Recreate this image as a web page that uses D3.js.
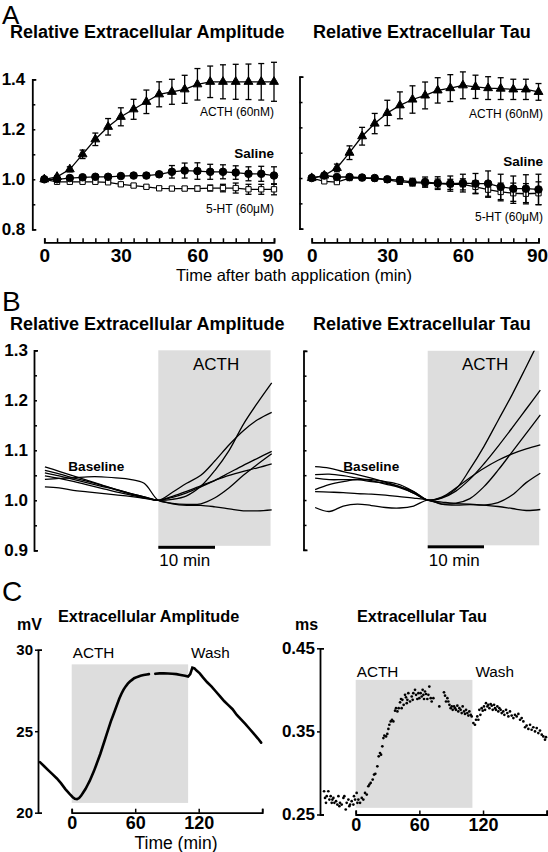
<!DOCTYPE html>
<html><head><meta charset="utf-8">
<script src="https://cdn.jsdelivr.net/npm/d3@7"></script>
<style>body{margin:0;background:#fff} svg{display:block}</style>
</head><body><svg id="c" width="548" height="852"></svg>
<script>
// ---------------- DATA ----------------
// Panel A: relative values every 5 min after bath application
const timeA = [0,5,10,15,20,25,30,35,40,45,50,55,60,65,70,75,80,85,90];
const ampACTH = [1.00,1.01,1.04,1.10,1.16,1.21,1.25,1.28,1.31,1.34,1.35,1.36,1.38,1.39,1.39,1.39,1.39,1.39,1.39];
const ampACTHErr = [0,0.005,0.01,0.017,0.025,0.033,0.036,0.04,0.047,0.05,0.05,0.056,0.063,0.063,0.068,0.07,0.071,0.073,0.078];
const ampSaline = [1.00,1.00,1.005,1.008,1.01,1.01,1.013,1.015,1.015,1.02,1.03,1.035,1.033,1.03,1.03,1.027,1.022,1.022,1.015];
const ampSalineErr = [0,0.003,0.005,0.005,0.006,0.006,0.007,0.008,0.009,0.01,0.025,0.03,0.033,0.03,0.028,0.027,0.028,0.03,0.035];
const amp5HT = [1.00,0.99,0.99,0.99,0.99,0.988,0.98,0.975,0.97,0.964,0.963,0.963,0.963,0.965,0.965,0.965,0.96,0.96,0.96];
const amp5HTErr = [0,0.003,0.004,0.005,0.005,0.005,0.006,0.006,0.006,0.007,0.007,0.008,0.01,0.012,0.015,0.02,0.02,0.02,0.022];
const tauACTH = [1.00,1.01,1.04,1.10,1.165,1.215,1.257,1.287,1.31,1.326,1.346,1.355,1.366,1.36,1.355,1.353,1.35,1.35,1.34];
const tauACTHErr = [0,0.005,0.015,0.027,0.035,0.04,0.05,0.053,0.054,0.053,0.05,0.053,0.053,0.046,0.045,0.043,0.04,0.04,0.033];
const tauSaline = [1.00,1.01,1.004,1.004,1.002,1.0,0.995,0.992,0.984,0.984,0.98,0.978,0.98,0.978,0.978,0.965,0.958,0.958,0.955];
const tauSalineErr = [0,0.004,0.004,0.005,0.006,0.008,0.01,0.012,0.015,0.02,0.025,0.03,0.035,0.04,0.05,0.05,0.05,0.055,0.06];
const tau5HT = [1.00,0.987,0.984,1.0,1.0,0.998,0.993,0.985,0.982,0.98,0.978,0.975,0.975,0.965,0.954,0.945,0.94,0.938,0.94];
const tau5HTErr = [0,0.004,0.005,0.005,0.005,0.006,0.008,0.01,0.012,0.015,0.018,0.02,0.022,0.025,0.03,0.035,0.04,0.04,0.045];
const tickA_x = [0,5,10,15,20,25,30,35,40,45,50,55,60,65,70,75,80,85,90];
const labelA_x = [0,30,60,90];
const tickA_y = [0.8,0.9,1.0,1.1,1.2,1.3,1.4];
const labelA_y = [0.8,1.0,1.2,1.4];

// Panel B: individual traces (min relative to ACTH onset)
const timeB = [-20,-17.5,-15,-12.5,-10,-7.5,-5,-2.5,0,2.5,5,7.5,10,12.5,15,17.5,20];
const ampTrace1 = [1.067,1.058,1.049,1.040,1.031,1.022,1.014,1.007,1.0,1.002,1.009,1.028,1.060,1.100,1.152,1.195,1.235];
const ampTrace2 = [1.060,1.053,1.045,1.038,1.030,1.022,1.014,1.007,1.0,1.016,1.034,1.050,1.079,1.111,1.139,1.161,1.176];
const ampTrace3 = [1.055,1.049,1.042,1.035,1.028,1.021,1.013,1.006,1.0,1.006,1.015,1.027,1.040,1.055,1.070,1.084,1.098];
const ampTrace4 = [1.049,1.044,1.038,1.031,1.024,1.017,1.011,1.005,1.0,1.008,1.018,1.029,1.040,1.050,1.058,1.065,1.073];
const ampTrace5 = [1.042,1.044,1.045,1.047,1.047,1.045,1.042,1.034,1.0,0.994,0.992,0.993,1.005,1.025,1.050,1.072,1.093];
const ampTrace6 = [1.027,1.025,1.020,1.017,1.014,1.011,1.008,1.004,1.0,0.993,0.990,0.990,0.987,0.983,0.979,0.979,0.981];
const tauTrace1 = [1.067,1.064,1.057,1.051,1.044,1.036,1.027,1.014,1.0,1.005,1.022,1.062,1.108,1.160,1.212,1.268,1.325];
const tauTrace2 = [1.051,1.052,1.049,1.044,1.039,1.032,1.025,1.014,1.0,1.004,1.018,1.042,1.073,1.108,1.145,1.183,1.221];
const tauTrace3 = [1.044,1.041,1.041,1.041,1.041,1.037,1.031,1.017,1.0,0.996,0.994,1.003,1.027,1.060,1.097,1.134,1.171];
const tauTrace4 = [1.021,1.031,1.037,1.041,1.037,1.034,1.027,1.017,1.0,1.006,1.024,1.045,1.064,1.080,1.093,1.103,1.111];
const tauTrace5 = [1.017,1.016,1.015,1.013,1.012,1.010,1.007,1.004,1.0,0.992,0.990,0.991,0.990,0.995,1.010,1.035,1.054];
const tauTrace6 = [0.985,0.977,0.988,0.992,0.989,0.985,0.984,0.988,1.0,0.992,0.993,0.992,0.990,0.987,0.983,0.979,0.981];
const tickB_y = [0.9,0.95,1.0,1.05,1.1,1.15,1.2,1.25,1.3];
const labelB_y = [0.9,1.0,1.1,1.2,1.3];
const acthWindowB = [0,19.8];
const scaleBarB = [0,10];

// Panel C: single experiment (min)
const ampTime = [-30,-26,-22,-18,-14,-10,-6,-2,1,3,5,7,9,11,13,15,17,19,21,23,25,27,29,31,33,35,37,39,41,43,45,47,49,51,53,55,57,59,62,65,68,71,73,79,83,87,91,95,99,103,107,110,112,114,116,118,121,124,128,132,136,140,144,148,152,156,160,164,168,172,176,179];
const ampValue = [23.1,22.85,22.6,22.35,22.1,21.8,21.45,21.15,20.95,20.85,20.83,20.9,21.05,21.25,21.45,21.7,21.95,22.25,22.55,22.9,23.25,23.6,24.0,24.4,24.8,25.2,25.6,25.95,26.3,26.65,27.0,27.3,27.55,27.75,27.92,28.05,28.15,28.25,28.33,28.4,28.45,28.48,28.5,28.52,28.55,28.55,28.54,28.52,28.5,28.45,28.4,28.35,28.5,28.9,28.85,28.72,28.55,28.3,28.0,27.75,27.45,27.15,26.85,26.6,26.35,26.0,25.72,25.45,25.15,24.85,24.55,24.3];
const tauTime = [-29.8,-28.9,-28.0,-27.3,-25.8,-24.8,-23.6,-22.6,-22.0,-21.0,-20.1,-18.5,-17.3,-16.3,-15.4,-14.8,-13.2,-11.6,-10.7,-9.4,-8.5,-6.9,-6.0,-5.3,-3.8,-2.2,-1.6,-0.6,
0.9,1.6,2.5,4.1,5.7,7.2,8.8,10.4,11.9,12.9,14.1,16.0,17.3,18.5,20.4,21.7,22.9,23.9,25.1,26.1,27.0,28.6,29.8,30.8,31.7,33.0,34.2,35.5,37.1,38.0,39.3,40.5,41.8,42.7,
43.3,44.0,45.2,46.5,47.4,48.1,48.7,49.6,51.2,52.8,53.7,54.3,55.9,56.9,58.1,59.1,60.0,61.2,62.2,63.1,63.8,64.4,65.3,66.3,67.5,68.5,69.4,70.7,71.6,73.2,
78.8,83.2,84.2,85.1,86.4,87.3,88.3,89.5,90.5,91.4,92.7,93.6,94.5,95.8,96.7,97.7,98.9,99.9,100.8,102.1,103.0,104.0,105.2,106.2,107.1,108.4,109.3,
110.9,112.4,113.4,114.6,115.6,116.5,117.5,118.7,119.7,120.9,121.9,122.8,124.1,125.0,126.0,127.2,128.2,129.1,130.4,131.3,132.2,133.5,134.4,135.4,136.6,137.6,139.1,140.1,141.7,142.9,143.9,145.4,147.0,148.6,150.1,151.7,153.3,154.9,156.4,158.0,159.6,161.1,162.7,164.3,165.8,167.4,169.0,170.6,172.1,173.7,175.3,176.8,178.4,179.3];
const tauValue = [0.278,0.270,0.264,0.272,0.278,0.268,0.272,0.264,0.268,0.270,0.264,0.266,0.262,0.272,0.260,0.264,0.262,0.270,0.272,0.256,0.264,0.268,0.260,0.262,0.266,0.262,0.272,0.268,
0.276,0.264,0.268,0.264,0.270,0.268,0.276,0.274,0.284,0.286,0.288,0.292,0.298,0.299,0.308,0.320,0.324,0.322,0.332,0.342,0.345,0.344,0.347,0.353,0.358,0.362,0.364,0.362,0.375,0.378,0.374,0.378,0.385,0.389,
0.378,0.388,0.382,0.394,0.391,0.384,0.388,0.396,0.386,0.392,0.388,0.396,0.400,0.394,0.389,0.396,0.390,0.396,0.392,0.400,0.394,0.389,0.398,0.395,0.389,0.394,0.404,0.390,0.386,0.390,
0.380,0.397,0.393,0.386,0.390,0.386,0.382,0.378,0.380,0.376,0.380,0.378,0.376,0.381,0.374,0.378,0.376,0.372,0.380,0.374,0.371,0.376,0.372,0.369,0.374,0.370,0.368,
0.360,0.358,0.364,0.368,0.364,0.376,0.370,0.378,0.375,0.380,0.376,0.384,0.380,0.382,0.378,0.383,0.381,0.376,0.382,0.378,0.376,0.380,0.374,0.378,0.376,0.372,0.374,0.370,0.376,0.372,0.368,0.374,0.369,0.366,0.370,0.368,0.371,0.364,0.366,0.362,0.355,0.357,0.353,0.358,0.352,0.355,0.350,0.354,0.348,0.351,0.346,0.344,0.340,0.343];
const tickC_x = [0,60,120,180];
const labelC_x = [0,60,120];
const tickC_yAmp = [20,25,30];
const tickC_yTau = [0.25,0.35,0.45];
const acthWindowC = [0,110];
const grayAmpC = [20.6,29.1];
const grayTauC = [0.258,0.412];

// ---------------- DRAWING ----------------
const FONT = "'Liberation Sans', Arial, Helvetica, sans-serif";
const svg = d3.select("#c");
const GRAY = "#dddddd";

function txt(x, y, s, size, weight, anchor) {
  return svg.append("text").attr("x", x).attr("y", y).text(s)
    .attr("font-family", FONT).attr("font-size", size)
    .attr("font-weight", weight || "normal").attr("text-anchor", anchor || "start").attr("fill", "#000");
}
function styleAxis(g, fs, fw) {
  g.selectAll("path.domain").attr("stroke", "#000").attr("stroke-width", 1.8);
  g.selectAll(".tick line").attr("stroke", "#000").attr("stroke-width", 1.5);
  g.selectAll(".tick text").attr("font-size", fs).attr("font-weight", fw).attr("font-family", FONT).attr("fill", "#000");
}
const inList = (list) => (d) => list.some(v => Math.abs(v - d) < 1e-9);

// ---- Panel labels / titles ----
txt(2, 24, "A", 26);
txt(2, 311, "B", 28);
txt(2, 601, "C", 28);
txt(10, 38, "Relative Extracellular Amplitude", 18, "bold");
txt(313, 38, "Relative Extracellular Tau", 18, "bold");
txt(10, 330, "Relative Extracellular Amplitude", 18, "bold");
txt(313, 330, "Relative Extracellular Tau", 18, "bold");

// ---- Panel A ----
function panelA(x0, x1, yTop, yBot, axisX, withLabels, series, lbl) {
  const x = d3.scaleLinear([0, 90], [x0, x1]);
  const y = d3.scaleLinear([0.8, 1.4], [yBot, yTop]);
  const gy = svg.append("g").attr("transform", `translate(${axisX},0)`)
    .call(d3.axisLeft(y).tickValues(tickA_y)
      .tickFormat(d => withLabels && inList(labelA_y)(d) ? d3.format(".1f")(d) : "")
      .tickSizeInner(-3).tickSizeOuter(-4).tickPadding(7));
  styleAxis(gy, 17, "bold");
  const gx = svg.append("g").attr("transform", `translate(0,242.3)`)
    .call(d3.axisBottom(x).tickValues(tickA_x)
      .tickFormat(d => inList(labelA_x)(d) ? d : "")
      .tickSizeInner(-4).tickSizeOuter(-4).tickPadding(6));
  styleAxis(gx, 19, "bold");
  gx.selectAll(".tick text").filter(d => d === 90).attr("dx", -1.5);

  const line = d3.line().x(d => x(d[0])).y(d => y(d[1]));
  series.forEach(s => {
    const pts = d3.zip(timeA, s.v, s.e);
    svg.append("path").datum(pts).attr("d", line).attr("fill", "none")
      .attr("stroke", "#000").attr("stroke-width", 1.3);
    const eb = svg.append("g").attr("stroke", "#000").attr("stroke-width", 1.3);
    pts.filter(p => p[2] > 0.004).forEach(p => {
      eb.append("line").attr("x1", x(p[0])).attr("x2", x(p[0])).attr("y1", y(p[1] - p[2])).attr("y2", y(p[1] + p[2]));
      [p[1] - p[2], p[1] + p[2]].forEach(v => eb.append("line")
        .attr("x1", x(p[0]) - 3).attr("x2", x(p[0]) + 3).attr("y1", y(v)).attr("y2", y(v)));
    });
    const sym = d3.symbol().type(s.type).size(s.size);
    svg.append("g").selectAll("path").data(pts).join("path")
      .attr("transform", p => `translate(${x(p[0])},${y(p[1])})`)
      .attr("d", sym).attr("fill", s.fill).attr("stroke", "#000").attr("stroke-width", 1);
  });
  txt(lbl.x, lbl.acth, "ACTH (60nM)", 12, "normal", "end");
  txt(lbl.x, lbl.saline, "Saline", 13.5, "bold", "end");
  txt(lbl.x, lbl.ht, "5-HT (60\u03BCM)", 12, "normal", "end");
}
panelA(44.3, 274, 79.3, 229.3, 32.3, true, [
  { v: amp5HT, e: amp5HTErr, type: d3.symbolSquare, size: 28, fill: "#fff" },
  { v: ampSaline, e: ampSalineErr, type: d3.symbolCircle, size: 45, fill: "#000" },
  { v: ampACTH, e: ampACTHErr, type: d3.symbolTriangle, size: 34, fill: "#000" }
], { x: 274, acth: 116, saline: 158, ht: 213 });
panelA(311.7, 538.5, 76.7, 228.7, 299.5, false, [
  { v: tau5HT, e: tau5HTErr, type: d3.symbolSquare, size: 28, fill: "#fff" },
  { v: tauSaline, e: tauSalineErr, type: d3.symbolCircle, size: 45, fill: "#000" },
  { v: tauACTH, e: tauACTHErr, type: d3.symbolTriangle, size: 34, fill: "#000" }
], { x: 543, acth: 118, saline: 166, ht: 221 });
txt(294, 281, "Time after bath application (min)", 16.5, "normal", "middle");

// ---- Panel B ----
function panelB(t0x, tenMin, yTop, yBot, axisX, withLabels, traces, baseX, clipId) {
  const x = d3.scaleLinear([0, 10], [t0x, t0x + tenMin]);
  const y = d3.scaleLinear([0.9, 1.3], [yBot, yTop]);
  svg.append("rect").attr("x", x(acthWindowB[0])).attr("width", x(acthWindowB[1]) - x(acthWindowB[0]))
    .attr("y", y(1.3)).attr("height", y(0.909) - y(1.3)).attr("fill", GRAY);
  const gy = svg.append("g").attr("transform", `translate(${axisX},0)`)
    .call(d3.axisLeft(y).tickValues(tickB_y)
      .tickFormat(d => withLabels && inList(labelB_y)(d) ? d3.format(".1f")(d) : "")
      .tickSizeInner(-3).tickSizeOuter(-4).tickPadding(6));
  styleAxis(gy, 17, "bold");
  svg.append("clipPath").attr("id", clipId).append("rect")
    .attr("x", axisX).attr("y", y(1.3)).attr("width", 548 - axisX).attr("height", y(0.9) - y(1.3));
  const line = d3.line().x(d => x(d[0])).y(d => y(d[1])).curve(d3.curveCatmullRom.alpha(0.5));
  const g = svg.append("g").attr("clip-path", `url(#${clipId})`);
  traces.forEach(tr => g.append("path").datum(d3.zip(timeB, tr)).attr("d", line)
    .attr("fill", "none").attr("stroke", "#000").attr("stroke-width", 1.3));
  svg.append("rect").attr("x", x(scaleBarB[0])).attr("width", x(scaleBarB[1]) - x(scaleBarB[0]))
    .attr("y", y(0.9) - 4.5).attr("height", 3).attr("fill", "#000");
  txt(x(0) + 1, 566, "10 min", 17, "normal", "start");
  txt(x(10.2), 370, "ACTH", 17, "normal", "middle");
  txt(baseX, 471, "Baseline", 13.6, "bold", "start");
}
panelB(158.3, 56.7, 350.3, 550.3, 34, true,
  [ampTrace1, ampTrace2, ampTrace3, ampTrace4, ampTrace5, ampTrace6], 68.3, "clipB1");
panelB(427.7, 56.3, 350.8, 549.8, 303.5, false,
  [tauTrace1, tauTrace2, tauTrace3, tauTrace4, tauTrace5, tauTrace6], 343.3, "clipB2");

// ---- Panel C ----
function panelC(xr, yDom, yr, axisX, yTicks, yFmt, yFs, gray, title, titleX, unit, unitX, labelY) {
  const x = d3.scaleLinear([0, 180], xr);
  const y = d3.scaleLinear(yDom, yr);
  svg.append("rect").attr("x", x(acthWindowC[0])).attr("width", x(acthWindowC[1]) - x(acthWindowC[0]))
    .attr("y", y(gray[1])).attr("height", y(gray[0]) - y(gray[1])).attr("fill", GRAY);
  const gy = svg.append("g").attr("transform", `translate(${axisX},0)`)
    .call(d3.axisLeft(y).tickValues(yTicks).tickFormat(yFmt)
      .tickSizeInner(3).tickSizeOuter(-4).tickPadding(2));
  styleAxis(gy, yFs, "bold");
  const gx = svg.append("g").attr("transform", `translate(0,${yr[0]})`)
    .call(d3.axisBottom(x).tickValues(tickC_x)
      .tickFormat(d => labelC_x.includes(d) ? d : "")
      .tickSizeInner(-4).tickSizeOuter(-4).tickPadding(4));
  styleAxis(gx, 18, "bold");
  txt(titleX, 622, title, 16.3, "bold");
  txt(unitX, 630, unit, 16, "bold");
  txt(x(acthWindowC[0]) + 1, labelY, "ACTH", 15.3, "normal");
  txt(x(acthWindowC[1]) + 3, labelY, "Wash", 15.3, "normal");
  return { x, y };
}
const cA = panelC([71.7, 262.2], [20, 30], [812.7, 649.7], 38, tickC_yAmp, d3.format("d"), 15,
  grayAmpC, "Extracellular Amplitude", 58, "mV", 17, 658);
{
  const pts = d3.zip(ampTime, ampValue);
  const segs = [];
  pts.forEach((p, i) => {
    if (i === 0 || p[0] - pts[i - 1][0] > 5) segs.push([]);
    segs[segs.length - 1].push(p);
  });
  const line = d3.line().x(d => cA.x(d[0])).y(d => cA.y(d[1]));
  segs.forEach(s => svg.append("path").datum(s).attr("d", line).attr("fill", "none")
    .attr("stroke", "#000").attr("stroke-width", 2.6).attr("stroke-linecap", "round"));
}
const cT = panelC([355.7, 546.7], [0.25, 0.45], [814.5, 648.3], 320, tickC_yTau, d3.format(".2f"), 17,
  grayTauC, "Extracellular Tau", 357, "ms", 295, 677);
svg.append("g").selectAll("circle").data(d3.zip(tauTime, tauValue)).join("circle")
  .attr("cx", d => cT.x(d[0])).attr("cy", d => cT.y(d[1])).attr("r", 1.35).attr("fill", "#000");
txt(176, 849, "Time (min)", 17.5, "normal", "middle");
</script>
</body></html>
